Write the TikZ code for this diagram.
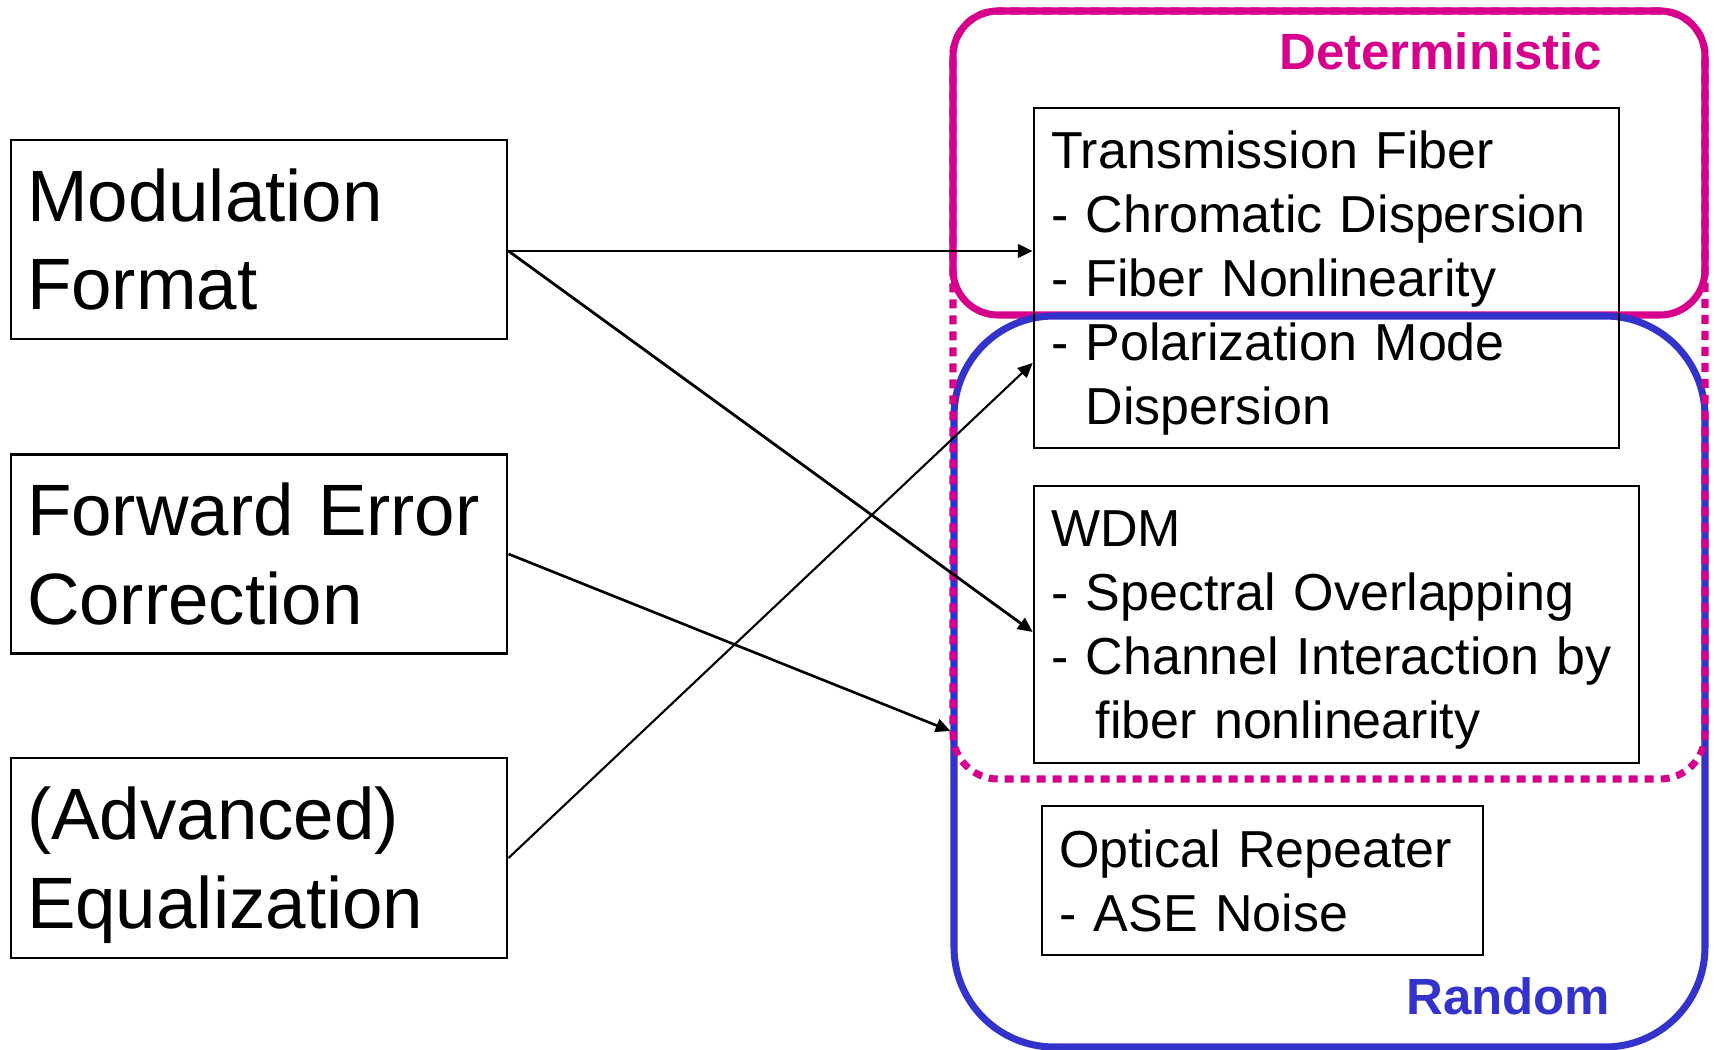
\documentclass[tikz,border=0pt]{standalone}
\usepackage{xcolor}
\usepackage{fontspec}
\setmainfont{Liberation Sans}
\usepackage{tikz}
\usetikzlibrary{arrows.meta}

\definecolor{detcol}{RGB}{214,0,140}
\definecolor{rndcol}{RGB}{51,51,204}

\newcommand{\srcfont}{\fontsize{20.7pt}{25.3pt}\selectfont}
\newcommand{\efffont}{\fontsize{14.8pt}{18.2pt}\selectfont}
\newcommand{\labfont}{\fontsize{14.5pt}{17pt}\selectfont\bfseries}
\newcommand{\subind}{\hphantom{-\ }}

\begin{document}
\begin{tikzpicture}[
    srcbox/.style={draw, line width=0.85pt, font=\srcfont, align=left,
      text width=4.64cm, inner xsep=0.16cm, inner ysep=0pt, minimum height=1.99cm},
    effbox/.style={draw, line width=0.75pt, font=\efffont, align=left,
      inner xsep=0.17cm, inner ysep=0pt},
    frame/.style={line width=2pt, minimum width=7.52cm, inner sep=0pt},
    dotframe/.style={frame, dash pattern=on 0.09cm off 0.07cm},
    conn/.style={-{Triangle[length=4.2pt,width=3.8pt]}, line width=0.8pt}
  ]
    \useasboundingbox (0,0) rectangle (17.16,10.5);

    % regions: deterministic (solid and dotted) and random
    \node[frame, draw=detcol, rounded corners=0.45cm, minimum height=3.04cm] (det) at (13.29,8.87) {};
    \node[frame, draw=rndcol, rounded corners=1cm, minimum width=7.51cm, minimum height=7.31cm] (rnd) at (13.295,3.685) {};
    \node[dotframe, draw=detcol, rounded corners=0.45cm, minimum height=7.68cm] (detdot) at (13.29,6.55) {};

    \node[anchor=base east, font=\labfont, text=detcol, inner sep=0pt] (detlab) at (16.03,9.80) {Deterministic};
    \node[anchor=base east, font=\labfont, text=rndcol, inner sep=0pt] (rndlab) at (16.11,0.35) {Random};

    % techniques
    \node[srcbox] (mod) at (2.59,8.105) {\mbox{Modulation}\\\mbox{Format}};
    \node[srcbox] (fec) at (2.59,4.96)  {\mbox{Forward Error}\\\mbox{Correction}};
    \node[srcbox, minimum height=2.00cm] (eq) at (2.59,1.92) {\mbox{(Advanced)}\\\smash{Equalization}};

    % impairments
    \node[effbox, text width=5.51cm, minimum height=3.40cm] (fib) at (13.265,7.72)
      {Transmission Fiber\\- Chromatic Dispersion\\- Fiber Nonlinearity\\- Polarization Mode\\\subind\smash{Dispersion}};
    \node[effbox, text width=5.71cm, minimum height=2.77cm] (wdm) at (13.365,4.255)
      {WDM\\- Spectral Overlapping\\\mbox{- Channel Interaction by}\\\subind\hspace{0.1cm}\smash{fiber nonlinearity}};
    \node[effbox, text width=4.07cm, minimum height=1.49cm] (rep) at (12.625,1.695)
      {Optical Repeater\\- ASE Noise};

    \draw[conn] ([yshift=-1.15mm]mod.east) -- ([yshift=-1.15mm]mod.east -| fib.west);
    \draw[conn] ([yshift=-1.15mm]mod.east) -- ([yshift=-0.75mm]wdm.west);
    \draw[conn, line width=0.75pt] (fec.east) -- ([yshift=-4.95mm]rnd.west);
    \draw[conn, line width=0.6pt] (eq.east) -- ([yshift=-8.5mm]fib.west);
\end{tikzpicture}
\end{document}
